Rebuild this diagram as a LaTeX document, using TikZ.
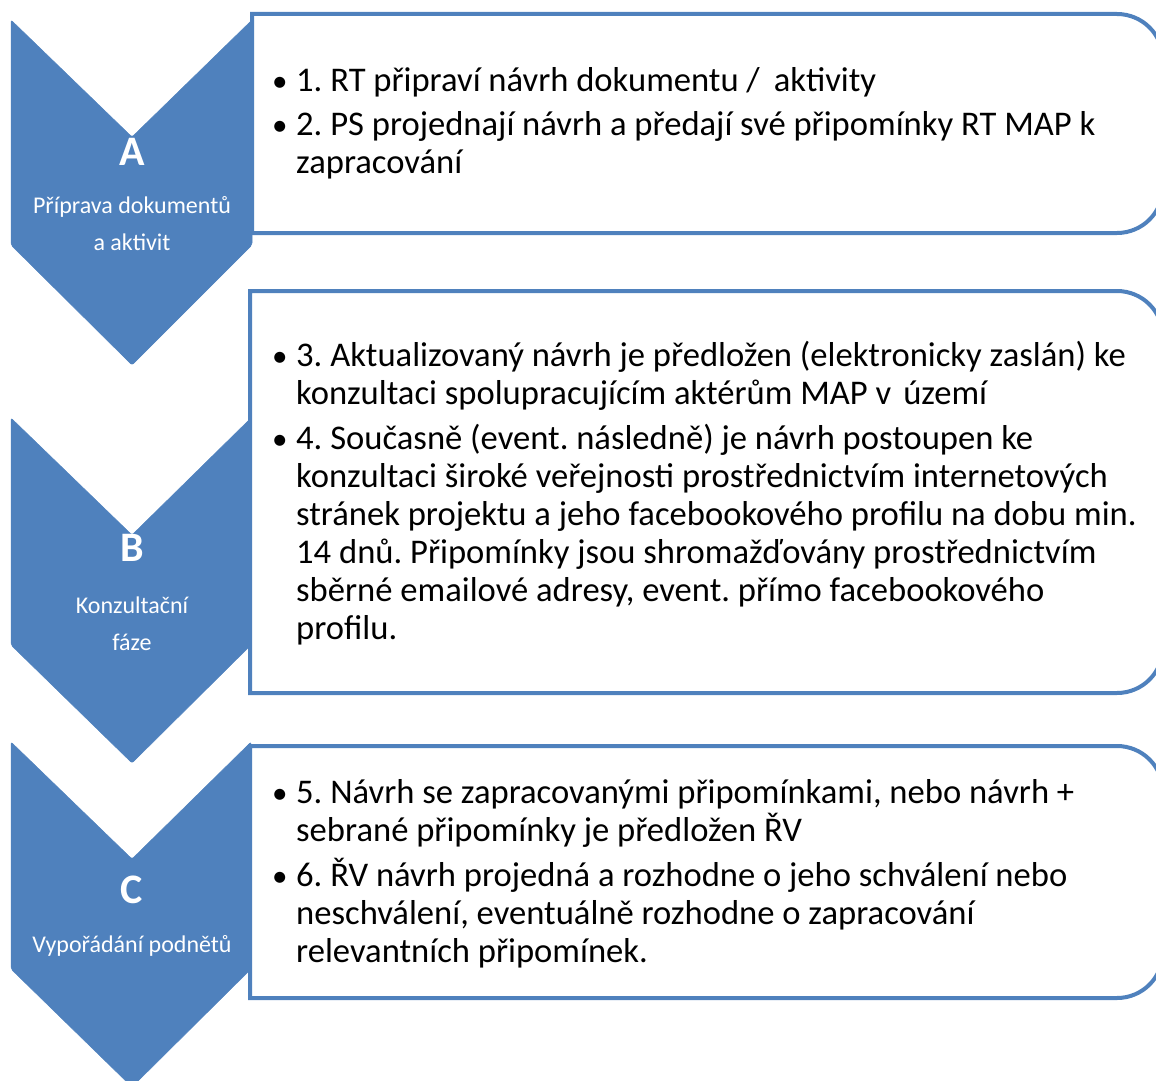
\documentclass[tikz,border=0pt]{standalone}
\usepackage{fontspec}
\setmainfont{Carlito}
\frenchspacing
\definecolor{acc}{HTML}{4F81BD}
\begin{document}
\begin{tikzpicture}[x=1pt,y=-1pt,
  chev/.style={fill=acc,draw=acc,line width=0.5pt,rounded corners=2pt},
  box/.style={draw=acc,line width=4pt,fill=white},
  ln/.style={anchor=base west,inner sep=0pt,font=\fontsize{34.6}{38}\selectfont,text=black},
  bul/.style={anchor=base west,inner sep=0pt,font=\fontsize{31}{38}\selectfont,text=black},
  big/.style={inner sep=0pt,text=white,font=\fontsize{42}{48}\selectfont\bfseries},
  sub/.style={inner sep=0pt,text=white,font=\fontsize{24}{28}\selectfont}]
\useasboundingbox (0,0) rectangle (1156,1081);
\clip (0,0) rectangle (1156,1081);
% boxes
\draw[box] (252,14) -- (1117,14) arc[start angle=-90,end angle=0,radius=46] -- (1163,187) arc[start angle=0,end angle=90,radius=46] -- (252,233) -- cycle;
\draw[box] (250,291) -- (1117,291) arc[start angle=-90,end angle=0,radius=46] -- (1163,647) arc[start angle=0,end angle=90,radius=46] -- (250,693) -- cycle;
\draw[box] (250,746) -- (1117,746) arc[start angle=-90,end angle=0,radius=46] -- (1163,952) arc[start angle=0,end angle=90,radius=46] -- (250,998) -- cycle;
% chevrons
\draw[chev] (11,20) -- (132,137) -- (252,20) -- (252,245) -- (132,365) -- (11,245) -- cycle;
\draw[chev] (11,418) -- (132,535) -- (251,418) -- (251,645) -- (132,763) -- (11,645) -- cycle;
\draw[chev] (11,742) -- (132,859) -- (251,742) -- (251,969) -- (132,1087) -- (11,969) -- cycle;
% chevron labels
\node[big] (la) at (132,152) {A};
\node[sub] (la1) at (132,207) {Příprava dokumentů};
\node[sub] (la2) at (132,242) {a aktivit};
\node[big] (lb) at (132,548) {B};
\node[sub] (lb1) at (132,605) {Konzultační};
\node[sub] (lb2) at (132,642) {fáze};
\node[big] (lc) at (132,890) {C};
\node[sub] (lc1) at (132,946) {Vypořádání podnětů};
% box A text
\node[bul] (ba1) at (272,92) {•};
\node[ln] (ta1) at (296,92) {1. RT připraví návrh dokumentu /\hspace{14pt}aktivity};
\node[bul] (ba2) at (272,135) {•};
\node[ln] (ta2) at (296,135) {2. PS projednají návrh a předají své připomínky RT MAP k};
\node[ln] (ta3) at (296,173) {zapracování};
% box B text
\node[bul] (bb1) at (272,366) {•};
\node[ln] (tb1) at (296,366) {3. Aktualizovaný návrh je předložen (elektronicky zaslán) ke};
\node[ln] (tb2) at (296,404) {konzultaci spolupracujícím aktérům MAP v\hspace{12pt}území};
\node[bul] (bb2) at (272,449) {•};
\node[ln] (tb3) at (296,449) {4. Současně (event. následně) je návrh postoupen ke};
\node[ln] (tb4) at (296,487) {konzultaci široké veřejnosti prostřednictvím internetových};
\node[ln] (tb5) at (296,525) {stránek projektu a jeho facebookového profilu na dobu min.};
\node[ln] (tb6) at (296,563) {14 dnů. Připomínky jsou shromažďovány prostřednictvím};
\node[ln] (tb7) at (296,601) {sběrné emailové adresy, event. přímo facebookového};
\node[ln] (tb8) at (296,639) {profilu.};
% box C text
\node[bul] (bc1) at (272,803) {•};
\node[ln] (tc1) at (296,803) {5. Návrh se zapracovanými připomínkami, nebo návrh +};
\node[ln] (tc2) at (296,841) {sebrané připomínky je předložen ŘV};
\node[bul] (bc2) at (272,886) {•};
\node[ln] (tc3) at (296,886) {6. ŘV návrh projedná a rozhodne o jeho schválení nebo};
\node[ln] (tc4) at (296,924) {neschválení, eventuálně rozhodne o zapracování};
\node[ln] (tc5) at (296,962) {relevantních připomínek.};
\end{tikzpicture}
\end{document}
